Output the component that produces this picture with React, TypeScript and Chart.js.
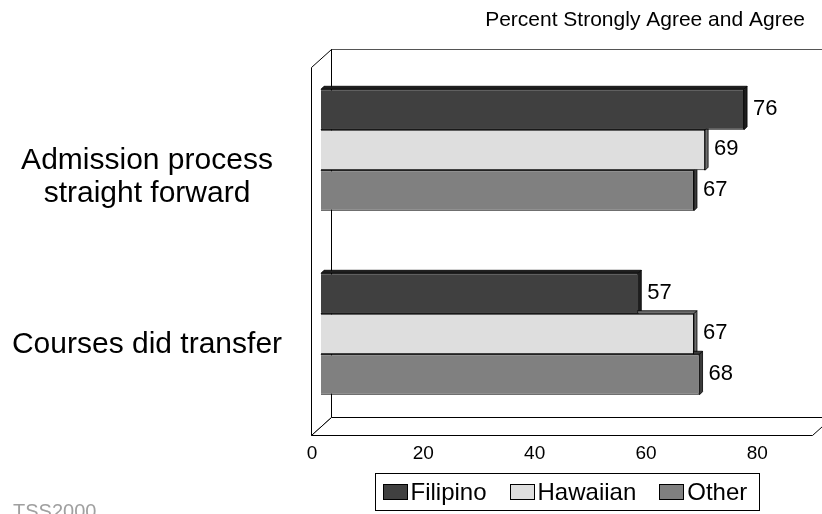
import React, { useEffect, useRef } from "react";
import { Chart, registerables } from "chart.js";

Chart.register(...registerables);

// ---- data ----
const categories = ["Admission process\nstraight forward", "Courses did transfer"];
const seriesNames = ["Filipino", "Hawaiian", "Other"];
const filipino = [76, 57];
const hawaiian = [69, 67];
const other = [67, 68];
const xTicks = [0, 20, 40, 60, 80];
const xMax = 90;
const titleText = "Percent Strongly Agree and Agree";
const sourceNote = "TSS2000";

// ---- styling ----
const FONT = '"Liberation Sans", Arial, Helvetica, sans-serif';
const fills = ["#404040", "#dedede", "#808080"];
const sideFills = ["#1e1e1e", "#6e6e6e", "#3c3c3c"];
const HALF_DX = 10; // half of the box depth, horizontal
const HALF_DY = 9; // half of the box depth, vertical
const BAR_D = 3; // bar thickness in depth

type Pt = [number, number];

function poly(ctx: CanvasRenderingContext2D, pts: Pt[], fill?: string, stroke?: string, lw = 1) {
  ctx.beginPath();
  ctx.moveTo(pts[0][0], pts[0][1]);
  for (let i = 1; i < pts.length; i++) ctx.lineTo(pts[i][0], pts[i][1]);
  ctx.closePath();
  if (fill) {
    ctx.fillStyle = fill;
    ctx.fill();
  }
  if (stroke) {
    ctx.strokeStyle = stroke;
    ctx.lineWidth = lw;
    ctx.stroke();
  }
}

function line(ctx: CanvasRenderingContext2D, a: Pt, b: Pt, color = "#000") {
  ctx.beginPath();
  ctx.moveTo(a[0], a[1]);
  ctx.lineTo(b[0], b[1]);
  ctx.strokeStyle = color;
  ctx.lineWidth = 1;
  ctx.stroke();
}

const box3d = {
  id: "box3d",
  beforeDatasetsDraw(chart: any) {
    const { ctx, chartArea: a, scales } = chart;
    const xs = scales.x;
    const x0 = Math.round(xs.getPixelForValue(0)) + 0.5;
    const x1 = Math.round(xs.getPixelForValue(xMax)) + 0.5;
    const top = Math.round(a.top) + 0.5;
    const bot = Math.round(a.bottom) + 0.5;

    const f = { l: x0 - HALF_DX, r: x1 - HALF_DX, t: top + HALF_DY, b: bot + HALF_DY };
    const k = { l: x0 + HALF_DX, r: x1 + HALF_DX, t: top - HALF_DY, b: bot - HALF_DY };

    ctx.save();
    // back wall
    line(ctx, [k.l, k.t], [k.r, k.t], "#555");
    line(ctx, [k.l, k.t], [k.l, k.b]);
    // left wall
    poly(ctx, [[f.l, f.t], [k.l, k.t], [k.l, k.b], [f.l, f.b]], "#fff", "#000");
    line(ctx, [k.l, k.t], [k.l, k.b]);
    // floor
    poly(ctx, [[f.l, f.b], [k.l, k.b], [k.r, k.b], [f.r, f.b]], "#fff", "#000");

    // bar top and end faces
    chart.data.datasets.forEach((_: any, di: number) => {
      const meta = chart.getDatasetMeta(di);
      meta.data.forEach((el: any) => {
        const p = el.getProps(["x", "y", "base", "height"], true);
        const t = p.y - p.height / 2;
        const b = p.y + p.height / 2;
        poly(ctx, [[p.base, t], [p.base + BAR_D, t - BAR_D], [p.x + BAR_D, t - BAR_D], [p.x, t]], sideFills[di], "#000", 0.8);
        poly(ctx, [[p.x, t], [p.x + BAR_D, t - BAR_D], [p.x + BAR_D, b - BAR_D], [p.x, b]], sideFills[di], "#000", 0.8);
      });
    });
    ctx.restore();
  },
  afterDatasetsDraw(chart: any) {
    const { ctx, chartArea: a, scales } = chart;
    const xs = scales.x;
    const ys = scales.y;
    ctx.save();
    ctx.fillStyle = "#000";

    // value labels
    ctx.font = `22px ${FONT}`;
    ctx.textAlign = "left";
    ctx.textBaseline = "middle";
    chart.data.datasets.forEach((ds: any, di: number) => {
      const meta = chart.getDatasetMeta(di);
      meta.data.forEach((el: any, i: number) => {
        const p = el.getProps(["x", "y"], true);
        ctx.fillText(String(ds.data[i]), p.x + BAR_D + 6, p.y - 1);
      });
    });

    // value axis tick labels, on the front edge of the floor
    ctx.font = `19px ${FONT}`;
    ctx.textAlign = "center";
    xTicks.forEach((v) => {
      ctx.fillText(String(v), xs.getPixelForValue(v) - HALF_DX + 1, a.bottom + HALF_DY + 19);
    });

    // category labels
    ctx.font = `30px ${FONT}`;
    ctx.textBaseline = "alphabetic";
    categories.forEach((c, i) => {
      const yc = ys.getPixelForValue(i);
      c.split("\n").forEach((ln, j) => {
        ctx.fillText(ln, 147, yc + 19 + j * 33);
      });
    });

    // title
    ctx.font = `21px ${FONT}`;
    ctx.textAlign = "right";
    ctx.fillText(titleText, 805, 26);

    // legend
    ctx.font = `24px ${FONT}`;
    ctx.textAlign = "left";
    const sw = 24, sh = 15, gapIn = 4, gapItem = 23, padL = 7, padR = 12;
    const widths = seriesNames.map((n) => sw + gapIn + ctx.measureText(n).width);
    const total = widths.reduce((s, w) => s + w, 0) + gapItem * (seriesNames.length - 1) + padL + padR;
    const lx = Math.round(567 - total / 2) + 0.5;
    const ly = 473.5;
    const lh = 37;
    ctx.strokeStyle = "#000";
    ctx.lineWidth = 1;
    ctx.strokeRect(lx, ly, Math.round(total), lh);
    let cx = lx + padL;
    seriesNames.forEach((n, i) => {
      ctx.fillStyle = fills[i];
      ctx.fillRect(Math.round(cx) + 0.5, 484.5, sw, sh);
      ctx.strokeRect(Math.round(cx) + 0.5, 484.5, sw, sh);
      ctx.fillStyle = "#000";
      ctx.fillText(n, cx + sw + gapIn, 500);
      cx += widths[i] + gapItem;
    });

    // source note
    ctx.font = `20px ${FONT}`;
    ctx.fillStyle = "#a0a0a0";
    ctx.fillText(sourceNote, 13, 518);
    ctx.restore();
  },
};

export default function App() {
  const ref = useRef<HTMLCanvasElement>(null);

  useEffect(() => {
    document.body.style.margin = "0";
    const canvas = ref.current;
    if (!canvas) return;
    const chart = new Chart(canvas, {
      type: "bar",
      data: {
        labels: categories,
        datasets: [filipino, hawaiian, other].map((d, i) => ({
          label: seriesNames[i],
          data: d,
          backgroundColor: fills[i],
          borderColor: "#000",
          borderWidth: 1,
          categoryPercentage: 0.66,
          barPercentage: 1,
        })),
      },
      options: {
        indexAxis: "y",
        responsive: false,
        animation: false,
        devicePixelRatio: 1,
        layout: { padding: { left: 321, right: 0, top: 58, bottom: 88 } },
        scales: {
          x: { min: 0, max: xMax, display: false },
          y: { display: false },
        },
        plugins: {
          legend: { display: false },
          tooltip: { enabled: false },
          title: { display: false },
        },
      },
      plugins: [box3d],
    });
    return () => chart.destroy();
  }, []);

  return (
    <div style={{ width: 822, height: 514, position: "relative", background: "#fff" }}>
      <canvas ref={ref} width={822} height={514} style={{ display: "block" }} />
    </div>
  );
}
